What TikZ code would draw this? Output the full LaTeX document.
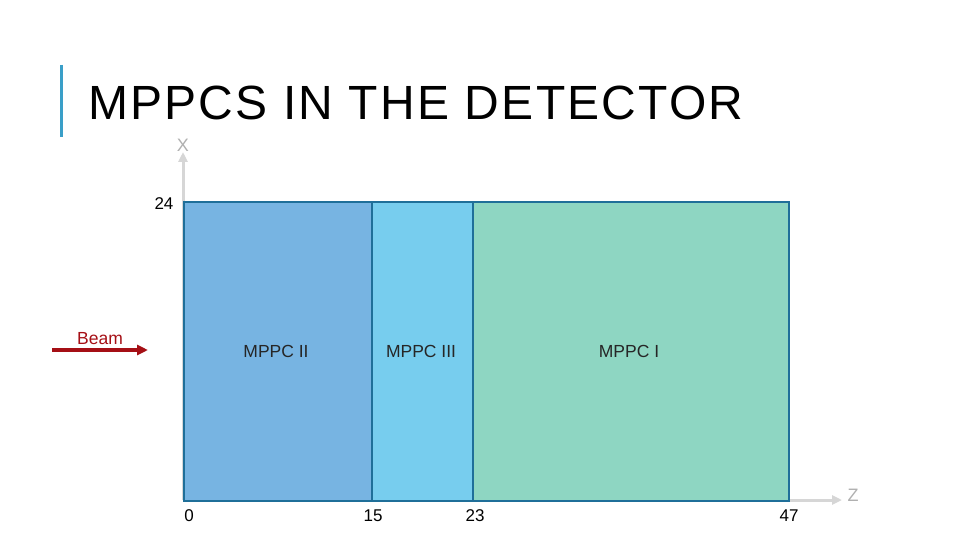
\documentclass[tikz,border=0pt]{standalone}
\usepackage{fontspec}
\setmainfont{Liberation Sans}
\newfontfamily\titlefont[LetterSpace=4.6]{Liberation Sans}
\usetikzlibrary{arrows.meta}
\definecolor{edgec}{HTML}{1F6F99}
\definecolor{fillA}{HTML}{77B4E2}
\definecolor{fillB}{HTML}{77CDEE}
\definecolor{fillC}{HTML}{8ED6C2}
\definecolor{barc}{HTML}{3A9FC8}
\definecolor{beamc}{HTML}{A50F15}
\definecolor{axisc}{HTML}{D6D6D6}
\definecolor{axlab}{HTML}{B0B0B0}
\definecolor{labc}{HTML}{262626}
\tikzset{
  region/.style={draw=edgec, line width=1.8pt},
  regionlabel/.style={font=\fontsize{17.5}{20}\selectfont, text=labc},
  tick/.style={font=\fontsize{17}{20}\selectfont, text=black},
  axis/.style={draw=axisc, line width=3pt, -{Triangle[length=10pt,width=9pt]}},
  axislabel/.style={font=\fontsize{18}{20}\selectfont, text=axlab},
}
\begin{document}
\begin{tikzpicture}[x=1pt,y=-1pt]
\useasboundingbox (0,0) rectangle (960,540);
% title
\draw[barc, line width=3pt] (61,65) -- (61,137);
\node[anchor=base west, inner sep=0pt, font=\titlefont\fontsize{48}{56}\selectfont] (title) at (88,120) {MPPCS IN THE DETECTOR};
% axes
\coordinate (origin) at (183,500);
\coordinate (xend) at (183,152);
\coordinate (zend) at (842,500);
\draw[axis] (origin) -- (xend);
\draw[axis] (origin) -- (zend);
\node[axislabel] (xlab) at (183,145) {X};
\node[axislabel] (zlab) at (853,495) {Z};
% regions
\node[region, fill=fillA, minimum width=188pt, minimum height=299pt, inner sep=0pt, anchor=north west] (r2) at (183,201) {};
\node[region, fill=fillB, minimum width=101pt, minimum height=299pt, inner sep=0pt, anchor=north west] (r3) at (371,201) {};
\node[region, fill=fillC, minimum width=316pt, minimum height=299pt, inner sep=0pt, anchor=north west] (r1) at (472,201) {};
\node[regionlabel] (l2) at (276,351) {MPPC II};
\node[regionlabel] (l3) at (421,351) {MPPC III};
\node[regionlabel] (l1) at (629,351) {MPPC I};
% ticks
\node[tick] (t24) at (164,204) {24};
\node[tick] (t0) at (189,516) {0};
\node[tick] (t15) at (373,516) {15};
\node[tick] (t23) at (475,516) {23};
\node[tick] (t47) at (789,516) {47};
% beam
\node[font=\fontsize{17.5}{20}\selectfont, text=beamc] (beam) at (100,339) {Beam};
\coordinate (bstart) at (52,350);
\coordinate (bend) at (148,350);
\draw[beamc, line width=3.2pt, -{Triangle[length=11pt,width=10pt]}] (bstart) -- (bend);
\end{tikzpicture}
\end{document}
